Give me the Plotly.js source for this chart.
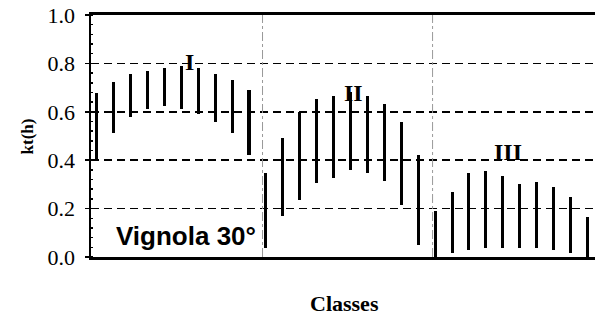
<!DOCTYPE html>
<html><head><meta charset="utf-8">
<script src="https://cdn.plot.ly/plotly-3.0.1.min.js"></script>
<style>html,body{margin:0;padding:0;background:#fff}#c{width:595px;height:323px}</style>
</head><body><div id="c"></div>
<script>
// Class index positions (10 per class)
const positions = [0,1,2,3,4,5,6,7,8,9,10,11,12,13,14,15,16,17,18,19,20,21,22,23,24,25,26,27,28,29];
const highValues = [0.678,0.723,0.755,0.768,0.779,0.790,0.779,0.755,0.733,0.689,
                    0.346,0.491,0.599,0.654,0.667,0.680,0.665,0.634,0.556,0.422,
                    0.191,0.267,0.346,0.357,0.333,0.301,0.311,0.290,0.246,0.167];
const lowValues  = [0.401,0.513,0.578,0.611,0.622,0.611,0.592,0.557,0.513,0.423,
                    0.036,0.170,0.235,0.304,0.326,0.360,0.347,0.314,0.216,0.049,
                    0.000,0.015,0.028,0.036,0.036,0.036,0.036,0.028,0.015,0.000];
const classLabels = ['I','II','III'];
const classLabelX = [5.5,15.16,24.33];
const classLabelY = [0.805,0.678,0.433];
const separators = [9.8,19.85];
const yTicks = [0,0.2,0.4,0.6,0.8,1.0];
const yTickText = ['0.0','0.2','0.4','0.6','0.8','1.0'];

const trace = {
  type:'bar', x:positions, base:lowValues,
  y:highValues.map((h,i)=>h-lowValues[i]),
  width:0.18, marker:{color:'#000', line:{width:0}}, hoverinfo:'skip'
};
const serif = 'Liberation Serif';
const annotations = classLabels.map((t,i)=>({
  x:classLabelX[i], y:classLabelY[i], xref:'x', yref:'y', text:'<b>'+t+'</b>',
  showarrow:false, font:{family:serif, size:24, color:'#000'}
}));
annotations.push({x:5.3, y:0.087, xref:'x', yref:'y', text:'<b>Vignola 30°</b>', showarrow:false,
  font:{family:'Liberation Sans', size:26, color:'#000'}});
annotations.push({x:-0.149, xref:'paper', y:0.5, yref:'paper', text:'<b>kt(h)</b>', showarrow:false, textangle:-90,
  font:{family:serif, size:17, color:'#000'}});
annotations.push({x:0.502, xref:'paper', y:-0.194, yref:'paper', yanchor:'middle', text:'<b>Classes</b>', showarrow:false,
  font:{family:serif, size:22, color:'#000'}});

const shapes = separators.map(s=>({type:'line', xref:'x', yref:'paper', x0:s, x1:s, y0:0, y1:1,
  line:{color:'#999', width:1, dash:'dashdot'}}));

const layout = {
  width:595, height:323, margin:{l:91, r:0, t:15, b:66},
  font:{family:serif, color:'#000'},
  paper_bgcolor:'#fff', plot_bgcolor:'#fff', showlegend:false, bargap:0,
  xaxis:{range:[-0.337,29.45], showgrid:false, zeroline:false, showticklabels:false, ticks:'',
    showline:true, linecolor:'#000', linewidth:3, mirror:true, fixedrange:true},
  yaxis:{range:[0,1], tickvals:yTicks, ticktext:yTickText, ticks:'outside', ticklen:4, tickwidth:1.5, tickcolor:'#000',
    showline:true, linecolor:'#000', linewidth:2.5, zeroline:false,
    showgrid:true, gridcolor:'#000', gridwidth:1.5, griddash:'8px,5px',
    ticklabelstandoff:5,
    tickfont:{family:serif, size:22, color:'#000'},
    minor:{dtick:0.04, ticks:'inside', ticklen:2, tickwidth:1.5, tickcolor:'#000', showgrid:false},
    fixedrange:true},
  annotations:annotations, shapes:shapes
};
Plotly.newPlot('c',[trace],layout,{staticPlot:true});
</script></body></html>
